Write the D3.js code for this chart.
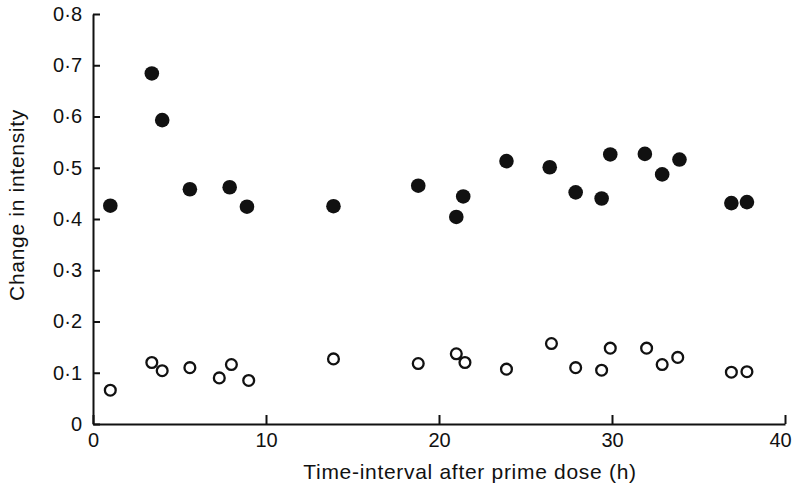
<!DOCTYPE html>
<html>
<head>
<meta charset="utf-8">
<script src="https://cdn.jsdelivr.net/npm/d3@7"></script>
<style>
  body { margin: 0; background: #fff; }
  svg text { font-family: "Liberation Sans", Arial, sans-serif; fill: #111; }
</style>
</head>
<body>
<svg id="chart" width="795" height="497"></svg>
<script>
// time after prime dose (h) and change in intensity
const filledTime = [1.0, 3.4, 4.0, 5.6, 7.9, 8.9, 13.9, 18.8, 21.0, 21.4, 23.9, 26.4, 27.9, 29.4, 29.9, 31.9, 32.9, 33.9, 36.9, 37.8];
const filledValue = [0.426, 0.684, 0.593, 0.458, 0.462, 0.424, 0.425, 0.465, 0.404, 0.444, 0.513, 0.501, 0.452, 0.440, 0.526, 0.527, 0.487, 0.516, 0.431, 0.433];

const openTime = [1.0, 3.4, 4.0, 5.6, 7.3, 8.0, 9.0, 13.9, 18.8, 21.0, 21.5, 23.9, 26.5, 27.9, 29.4, 29.9, 32.0, 32.9, 33.8, 36.9, 37.8];
const openValue = [0.066, 0.120, 0.104, 0.110, 0.090, 0.116, 0.085, 0.127, 0.118, 0.137, 0.120, 0.107, 0.157, 0.110, 0.105, 0.148, 0.148, 0.116, 0.130, 0.101, 0.102];

const xTicks = [0, 10, 20, 30, 40];
const yTicks = [0, 0.1, 0.2, 0.3, 0.4, 0.5, 0.6, 0.7, 0.8];

const svg = d3.select("#chart");

const x = d3.scaleLinear().domain([0, 40]).range([93, 785]);
const y = d3.scaleLinear().domain([0, 0.8]).range([424, 14]);

// y label format uses the raised decimal point
const fmtY = d => d === 0 ? "0" : d3.format(".1f")(d).replace(".", "\u00b7");

const xAxis = svg.append("g")
    .attr("transform", `translate(0,${y(0)})`)
    .call(d3.axisBottom(x).tickValues(xTicks).tickSizeInner(-9).tickSizeOuter(0).tickPadding(9));

const yAxis = svg.append("g")
    .attr("transform", `translate(${x(0)},0)`)
    .call(d3.axisLeft(y).tickValues(yTicks).tickFormat(fmtY).tickSizeInner(-7).tickSizeOuter(0).tickPadding(11));

[xAxis, yAxis].forEach(g => {
    g.select(".domain").attr("stroke", "#111").attr("stroke-width", 2);
    g.selectAll(".tick line").attr("stroke", "#111").attr("stroke-width", 2);
    g.selectAll(".tick text")
        .style("font-family", "'Liberation Sans', Arial, sans-serif")
        .style("font-size", "20px")
        .attr("fill", "#111");
});

// the "40" sits a little left of its tick so it stays on the page
xAxis.selectAll(".tick text").filter(d => d === 40).attr("dx", -5);

// open circles
svg.append("g")
    .selectAll("circle")
    .data(openTime.map((t, i) => [t, openValue[i]]))
    .enter().append("circle")
    .attr("cx", d => x(d[0]))
    .attr("cy", d => y(d[1]))
    .attr("r", 5.4)
    .attr("fill", "#fff")
    .attr("stroke", "#111")
    .attr("stroke-width", 2.3);

// filled circles
svg.append("g")
    .selectAll("circle")
    .data(filledTime.map((t, i) => [t, filledValue[i]]))
    .enter().append("circle")
    .attr("cx", d => x(d[0]))
    .attr("cy", d => y(d[1]))
    .attr("r", 7.3)
    .attr("fill", "#111");

// axis titles
svg.append("text")
    .attr("x", 470)
    .attr("y", 479)
    .attr("text-anchor", "middle")
    .style("font-size", "21px")
    .style("letter-spacing", "0.7px")
    .text("Time-interval after prime dose (h)");

svg.append("text")
    .attr("transform", "translate(24,205) rotate(-90)")
    .attr("text-anchor", "middle")
    .style("font-size", "21px")
    .style("letter-spacing", "0.7px")
    .text("Change in intensity");
</script>
</body>
</html>
